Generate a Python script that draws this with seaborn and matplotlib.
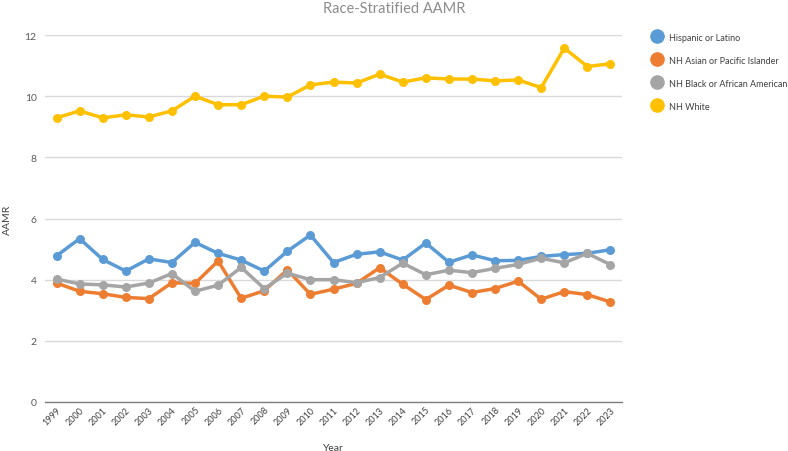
import matplotlib
matplotlib.use("Agg")
import matplotlib.pyplot as plt
from matplotlib.lines import Line2D
import seaborn as sns
import pandas as pd

years = [str(y) for y in range(1999, 2024)]
hispanic = [4.78, 5.34, 4.66, 4.28, 4.68, 4.56, 5.22, 4.86, 4.64, 4.28, 4.93, 5.46, 4.56,
            4.83, 4.91, 4.64, 5.20, 4.57, 4.81, 4.62, 4.63, 4.76, 4.82, 4.86, 4.98]
asian = [3.89, 3.62, 3.54, 3.42, 3.38, 3.90, 3.88, 4.61, 3.39, 3.64, 4.32, 3.52, 3.69,
         3.88, 4.39, 3.85, 3.35, 3.82, 3.58, 3.71, 3.95, 3.36, 3.61, 3.51, 3.27]
black = [4.02, 3.86, 3.83, 3.76, 3.89, 4.20, 3.62, 3.82, 4.40, 3.71, 4.21, 4.00, 4.00,
         3.90, 4.07, 4.54, 4.16, 4.31, 4.23, 4.37, 4.50, 4.70, 4.55, 4.86, 4.49]
white = [9.29, 9.52, 9.29, 9.39, 9.32, 9.52, 10.00, 9.72, 9.72, 10.00, 9.97, 10.37, 10.46,
         10.43, 10.72, 10.46, 10.60, 10.56, 10.56, 10.50, 10.53, 10.28, 11.57, 10.97, 11.06]
groups = ["Hispanic or Latino", "NH Asian or Pacific Islander",
          "NH Black or African American", "NH White"]
colors = ["#5B9BD5", "#ED7D31", "#A5A5A5", "#FFC000"]

rows = []
for g, vals in zip(groups, [hispanic, asian, black, white]):
    for y, v in zip(years, vals):
        rows.append({"Year": y, "AAMR": v, "Group": g})
df = pd.DataFrame(rows)

sns.set_theme(style="white")
plt.rcParams["font.family"] = ["Lato", "DejaVu Sans"]

fig = plt.figure(figsize=(7.88, 4.52), dpi=100)
ax = fig.add_axes([45/788, 49/452, 577/788, 367/452])

sns.pointplot(data=df, x="Year", y="AAMR", hue="Group", hue_order=groups,
              order=years, palette=colors, markers="o", linewidth=2.5,
              markersize=4.6, dodge=False, legend=False, ax=ax)

ax.set_ylim(0, 12)
ax.set_xlim(-0.5, len(years) - 0.5)
ax.set_yticks([0, 2, 4, 6, 8, 10, 12])
ax.yaxis.grid(True, color="#d9d9d9", linewidth=1)
ax.set_axisbelow(True)
for s in ["left", "right", "top"]:
    ax.spines[s].set_visible(False)
ax.spines["bottom"].set_color("#7f7f7f")
ax.spines["bottom"].set_linewidth(1)

ax.tick_params(axis="y", length=0, labelsize=7.5, labelcolor="#595959", pad=6)
ax.tick_params(axis="x", length=0, labelsize=6.5, labelcolor="#404040", pad=2)
for lab in ax.get_xticklabels():
    lab.set_rotation(45)
    lab.set_ha("right")
    lab.set_rotation_mode("anchor")

ax.set_xlabel("Year", fontsize=7.5, color="#404040", labelpad=12)
ax.set_ylabel("AAMR", fontsize=7.5, color="#404040")
ax.yaxis.set_label_coords(-33/577, 0.5)
fig.text(394/788, 1 - 9/452, "Race-Stratified AAMR", ha="center", va="center",
         fontsize=10.5, color="#8c8c8c")

handles = [Line2D([0], [0], marker="o", linestyle="", markersize=9.5,
                  markerfacecolor=c, markeredgecolor=c) for c in colors]
fig.legend(handles, groups, loc="upper left", bbox_to_anchor=(648/788, 1 - 30/452),
           frameon=False, fontsize=6.5, labelcolor="#404040", handletextpad=0.7,
           labelspacing=1.55, borderaxespad=0, handlelength=1.2)

fig.savefig("out.png", dpi=100)
